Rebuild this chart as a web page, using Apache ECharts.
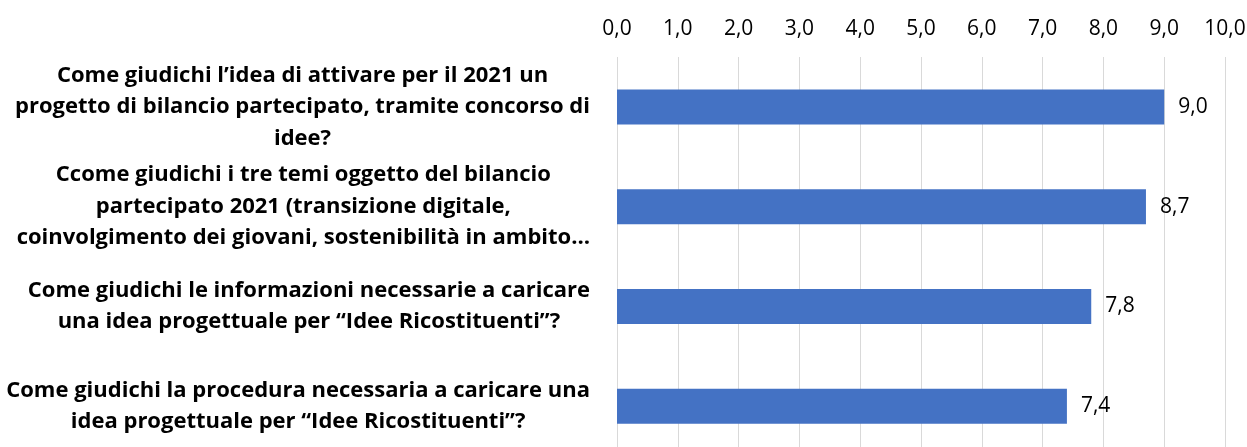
<!doctype html>
<html lang="it">
<head>
    <meta charset="utf-8">
    <title>Bilancio partecipato 2021</title>
    <script src="https://cdn.jsdelivr.net/npm/echarts@6/dist/echarts.min.js"></script>
</head>
<body style="margin:0;background:#fff">
<div id="main" style="width:1247px;height:447px;"></div>
<script>
    // domande (asse verticale), dall'alto in basso
    var domande = [
        'Come giudichi l\u2019idea di attivare per il 2021 un\nprogetto di bilancio partecipato, tramite concorso di\nidee?',
        'Ccome giudichi i tre temi oggetto del bilancio\npartecipato 2021 (transizione digitale,\ncoinvolgimento dei giovani, sostenibilit\u00e0 in ambito\u2026',
        'Come giudichi le informazioni necessarie a caricare\nuna idea progettuale per \u201cIdee Ricostituenti\u201d?',
        'Come giudichi la procedura necessaria a caricare una\nidea progettuale per \u201cIdee Ricostituenti\u201d?'
    ];
    // punteggi medi
    var punteggi = [9.0, 8.7, 7.8, 7.4];
    // scala asse orizzontale
    var scalaMin = 0, scalaMax = 10, scalaPasso = 1;

    var FONT = 'Open Sans';

    function virgola(v) {
        return v.toFixed(1).replace('.', ',');
    }

    echarts.init(document.getElementById('main')).setOption({
        animation: false,
        grid: {
            left: 617,
            right: 22,
            top: 57,
            height: 399,
            outerBoundsMode: 'none'
        },
        xAxis: {
            type: 'value',
            position: 'top',
            min: scalaMin,
            max: scalaMax,
            interval: scalaPasso,
            axisLine: {show: false},
            axisTick: {show: false},
            splitLine: {lineStyle: {color: '#d9d9d9', width: 1}},
            axisLabel: {
                margin: 17,
                fontFamily: FONT,
                fontSize: 21,
                color: '#000',
                formatter: virgola
            }
        },
        yAxis: {
            type: 'category',
            inverse: true,
            data: domande,
            axisLine: {show: false},
            axisTick: {show: false},
            axisLabel: {
                margin: 27,
                formatter: function (v) {
                    return v.split('\n').map(function (r) {
                        return '{c|' + r + '}';
                    }).join('\n');
                },
                rich: {
                    c: {
                        align: 'center',
                        fontFamily: FONT,
                        fontWeight: 'bold',
                        fontSize: 22,
                        lineHeight: 31.5,
                        color: '#000'
                    }
                }
            }
        },
        series: [{
            type: 'bar',
            data: punteggi,
            barWidth: 35,
            itemStyle: {color: '#4472c4'},
            label: {
                show: true,
                position: 'right',
                distance: 14,
                fontFamily: FONT,
                fontSize: 21,
                color: '#000',
                formatter: function (p) {
                    return virgola(p.value);
                }
            }
        }]
    });
</script>
</body>
</html>
